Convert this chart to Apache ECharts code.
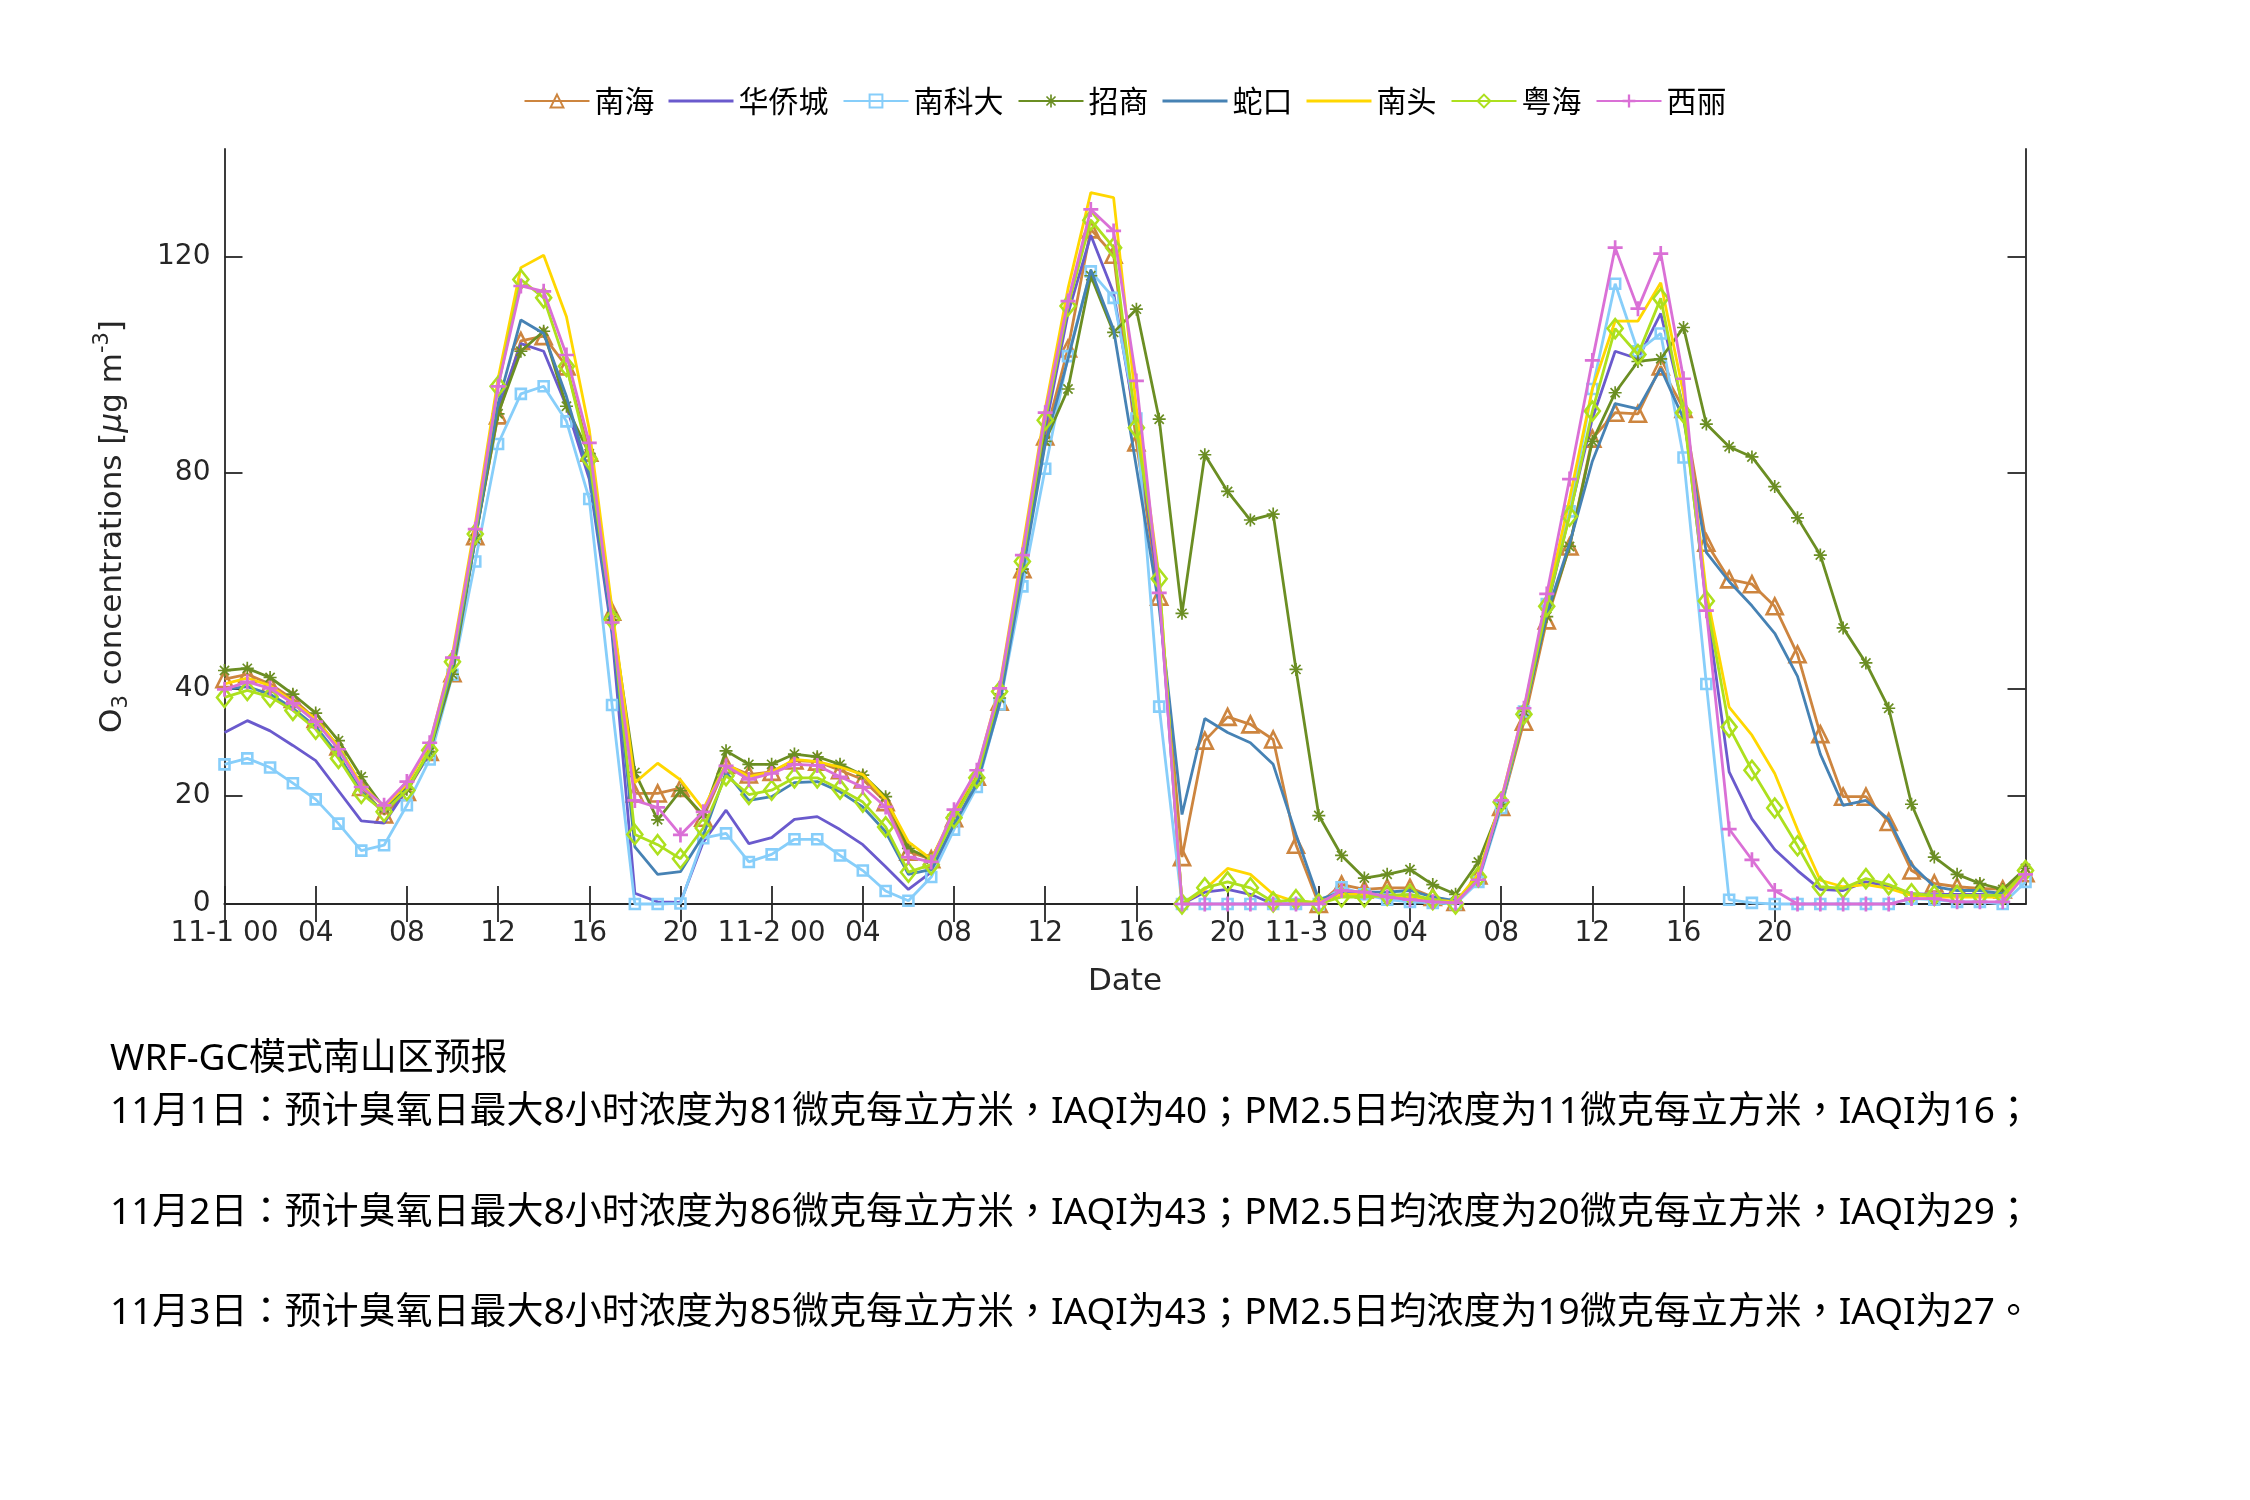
<!DOCTYPE html>
<html>
<head>
<meta charset="utf-8">
<script src="https://cdn.jsdelivr.net/npm/echarts@6/dist/echarts.min.js"></script>
<style>
html,body{margin:0;padding:0;background:#fff;}
#chart{width:2250px;height:1500px;}
</style>
</head>
<body>
<div id="chart"></div>
<script>
// ---------------- data ----------------
const hours = Array.from({length: 80}, (_, i) => String(i));
const tickLabels = ['11-1 00','04','08','12','16','20','11-2 00','04','08','12','16','20','11-3 00','04','08','12','16','20'];
const yTicks = [0, 20, 40, 80, 120];
const seriesNames = ['南海','华侨城','南科大','招商','蛇口','南头','粤海','西丽'];

const nanhai = [41.7,42.6,40.8,38.0,34.3,29.2,21.7,16.6,20.8,28.2,42.8,68.2,90.6,104.4,105.3,99.7,83.7,54.2,20.5,20.5,
  21.5,16.0,25.8,24.0,24.5,26.6,26.4,24.8,23.1,18.9,9.7,8.3,15.9,23.6,37.5,62.1,86.7,103.0,125.1,120.4,
  85.6,57.0,8.7,30.3,34.7,33.3,30.5,11.0,0,3.6,2.7,3.0,3.0,1.3,0.4,5.3,18.0,33.8,52.6,66.3,
  86.3,91.1,90.9,99.7,91.8,67.0,60.2,59.3,55.2,46.3,31.5,19.9,19.9,15.2,6.2,3.8,3.2,2.9,2.7,5.7];
const huaqiaocheng = [31.8,34.0,32.1,29.4,26.6,21.0,15.4,15.0,21.3,27.8,43.5,67.7,91.8,103.9,102.5,92.3,78.8,50.0,2.0,0.4,
  0.3,11.5,17.4,11.2,12.3,15.7,16.2,13.8,11.0,6.9,2.7,5.9,14.3,22.7,38.4,62.6,88.1,109.5,124.0,113.3,
  88.6,58.0,0,2.2,2.7,1.8,0,0,0,1.8,1.8,1.3,1.0,0.6,0.3,4.7,18.9,35.4,54.7,72.3,
  90.0,102.5,101.1,109.5,91.8,55.5,24.5,15.8,10.1,6.2,2.7,2.5,4.1,3.3,1.9,1.8,1.8,1.8,1.6,5.5];
const nankeda = [25.9,27.0,25.3,22.4,19.4,14.9,9.9,10.9,18.3,26.8,42.5,63.5,85.3,94.6,96.0,89.5,75.1,36.9,0,0,
  0.1,12.2,13.1,7.8,9.2,12.0,12.0,9.0,6.2,2.4,0.6,5.0,13.8,21.7,37.0,58.9,80.7,101.6,117.3,112.4,
  90.0,36.6,0,0,0,0,0,0,0,3.1,1.8,0.8,0.4,0.2,0,4.1,17.8,35.7,55.6,72.8,
  95.5,115.0,102.5,105.8,82.8,40.8,0.8,0.2,0,0,0,0,0,0,1.0,0.8,0.4,0.4,0,4.1];
const zhaoshang = [43.3,43.7,42.0,38.9,35.4,30.3,23.6,17.8,21.3,28.2,42.6,67.7,90.9,102.5,106.2,92.3,83.5,53.3,24.4,15.6,
  21.0,16.5,28.4,25.9,25.9,27.8,27.3,25.9,23.9,19.9,10.3,8.3,16.6,23.3,38.2,62.1,85.8,95.5,116.5,106.0,
  110.3,89.9,53.9,83.3,76.5,71.2,72.3,43.5,16.4,9.0,4.8,5.5,6.4,3.6,1.8,7.8,18.5,35.7,53.3,66.3,
  85.8,94.8,100.6,101.1,106.9,89.0,84.8,82.9,77.4,71.6,64.7,51.2,44.7,36.3,18.5,8.7,5.5,3.8,2.7,6.6];
const shekou = [39.8,40.3,38.9,36.3,32.9,27.6,20.8,17.1,21.3,28.2,44.0,67.7,92.8,108.3,105.8,94.1,79.7,51.0,10.6,5.5,
  6.0,12.7,24.4,19.2,19.9,22.5,22.7,20.8,18.0,13.4,5.5,6.4,14.8,22.2,37.0,61.2,85.3,101.1,117.6,106.5,
  81.0,55.0,16.6,34.4,31.8,29.9,25.9,12.9,0.8,2.2,2.2,2.2,2.5,1.3,0.6,4.5,18.3,35.0,53.8,66.8,
  82.1,92.8,91.8,99.3,90.0,65.2,59.8,55.3,50.2,42.2,27.8,18.3,19.2,15.7,7.3,3.2,2.5,2.5,1.9,5.5];
const nantou = [40.8,41.9,40.5,37.5,34.3,29.2,22.2,18.0,22.2,29.6,46.3,70.5,97.4,118.0,120.3,108.9,88.0,54.7,22.5,26.1,
  23.0,17.6,26.0,23.6,24.5,26.8,26.4,25.4,24.0,19.4,11.5,8.3,17.1,24.5,40.3,65.8,91.8,114.1,131.9,131.0,
  92.0,60.5,0,2.7,6.6,5.5,1.8,0.4,0.4,1.8,1.8,1.3,1.3,0.8,0.4,5.5,19.4,36.1,56.1,75.1,
  95.5,108.1,108.1,115.2,94.6,57.8,36.5,31.3,24.2,13.8,4.4,3.2,3.6,2.9,1.6,1.3,1.3,1.3,1.3,5.5];
const yuehai = [38.3,39.6,38.4,35.9,32.4,27.0,20.5,17.1,21.1,28.5,44.9,68.6,96.0,115.8,112.4,99.7,82.5,52.8,12.9,11.0,
  8.4,14.1,23.8,20.3,21.1,23.4,23.4,21.3,18.9,14.3,5.9,7.3,16.0,23.4,39.4,63.5,89.7,110.9,126.8,121.7,
  88.3,60.3,0,3.0,4.1,3.0,0.4,0.8,0,1.3,1.3,1.6,1.8,0.8,0,5.0,18.9,35.2,55.2,71.9,
  91.4,106.7,101.9,112.3,91.1,56.2,32.8,24.8,17.8,10.8,3.2,2.9,4.7,3.6,1.9,1.6,1.6,1.6,1.6,6.2];
const xili = [39.8,41.2,40.0,37.2,33.8,28.7,21.7,18.3,22.7,29.9,45.7,69.5,96.0,114.6,113.6,101.8,85.5,52.2,19.2,17.9,
  12.8,17.1,25.6,23.1,24.2,25.9,25.7,23.6,21.7,18.0,8.7,7.8,17.5,24.8,40.0,64.7,91.1,111.8,128.8,124.8,
  97.0,57.7,0,0,0,0,0,0,0,2.5,2.2,1.3,0.8,0.4,0.2,4.5,19.2,36.3,57.5,78.8,
  100.8,121.7,110.4,120.6,97.4,54.4,13.9,8.2,2.5,0,0,0,0,0,1.0,1.0,0.4,0.4,0.4,5.5];

const textLines = [
  'WRF-GC模式南山区预报',
  '11月1日：预计臭氧日最大8小时浓度为81微克每立方米，IAQI为40；PM2.5日均浓度为11微克每立方米，IAQI为16；',
  '11月2日：预计臭氧日最大8小时浓度为86微克每立方米，IAQI为43；PM2.5日均浓度为20微克每立方米，IAQI为29；',
  '11月3日：预计臭氧日最大8小时浓度为85微克每立方米，IAQI为43；PM2.5日均浓度为19微克每立方米，IAQI为27。'
];

// ---------------- styles ----------------
const AX = '#262626';
const LAT = '"DejaVu Sans", "Noto Sans CJK SC", sans-serif';
const CJK = '"Noto Sans CJK SC", "DejaVu Sans", sans-serif';
const PLUS = 'path://M8.2,0 L11.8,0 L11.8,8.2 L20,8.2 L20,11.8 L11.8,11.8 L11.8,20 L8.2,20 L8.2,11.8 L0,11.8 L0,8.2 L8.2,8.2 Z';
const STAR = 'path://M0,8.7 L20,8.7 L20,11.3 L0,11.3 Z M8.7,0 L11.3,0 L11.3,20 L8.7,20 Z M2.01,3.85 L3.85,2.01 L17.99,16.15 L16.15,17.99 Z M16.15,2.01 L17.99,3.85 L3.85,17.99 L2.01,16.15 Z';
// plain line legend icon (bbox 65 x 16, thin bar in the middle)
const LINE_ICON = 'path://M0,0 L0.01,0 L0.01,0.01 Z M0,6.6 L65,6.6 L65,9.4 L0,9.4 Z M64.99,16 L65,16 L65,15.99 Z';

const styleDefs = [
  {data: nanhai,       color: '#CD853F', symbol: 'triangle', size: 16, hollow: true},
  {data: huaqiaocheng, color: '#6A5ACD', symbol: 'none'},
  {data: nankeda,      color: '#87CEFA', symbol: 'rect', size: 10, hollow: true},
  {data: zhaoshang,    color: '#6B8E23', symbol: STAR, size: 13, hollow: false},
  {data: shekou,       color: '#4682B4', symbol: 'none'},
  {data: nantou,       color: '#FFD700', symbol: 'none'},
  {data: yuehai,       color: '#ADE01E', symbol: 'diamond', size: [15, 19], hollow: true},
  {data: xili,         color: '#DA70D6', symbol: PLUS, size: 15, hollow: false}
];

const series = styleDefs.map((s, i) => ({
  name: seriesNames[i],
  type: 'line',
  data: s.data,
  xAxisIndex: 0,
  yAxisIndex: 0,
  symbol: s.symbol,
  symbolSize: s.size || 0,
  showSymbol: s.symbol !== 'none',
  showAllSymbol: true,
  clip: false,
  lineStyle: {color: s.color, width: 2.8},
  itemStyle: s.hollow
    ? {color: 'rgba(255,255,255,0)', borderColor: s.color, borderWidth: 2.6}
    : {color: s.color, borderWidth: 0},
  emphasis: {disabled: true},
  z: 2 + i
}));

const legendData = seriesNames.map((n, i) =>
  styleDefs[i].symbol === 'none' ? {name: n, icon: LINE_ICON} : {name: n});

const xInterval = (idx) => idx % 4 === 0 && idx <= 68;

const baseX = {
  type: 'category',
  data: hours,
  boundaryGap: false,
  axisLine: {show: true, lineStyle: {color: AX, width: 1.8}},
  axisTick: {show: true, inside: true, length: 18, interval: xInterval, lineStyle: {color: AX, width: 1.8}},
  splitLine: {show: false}
};
const baseY = {
  type: 'value',
  min: 0, max: 140, interval: 20,
  axisLine: {show: true, lineStyle: {color: AX, width: 1.8}},
  axisTick: {show: true, inside: true, length: 18, customValues: yTicks, lineStyle: {color: AX, width: 1.8}},
  splitLine: {show: false}
};

const option = {
  animation: false,
  backgroundColor: '#ffffff',
  legend: {
    data: legendData,
    top: 86,
    left: 'center',
    itemWidth: 65,
    itemHeight: 16,
    itemGap: 14,
    padding: 0,
    symbolKeepAspect: true,
    textStyle: {fontFamily: CJK, fontSize: 30, color: '#000'}
  },
  grid: {left: 224.5, top: 149, width: 1801, height: 755, containLabel: false},
  xAxis: [
    Object.assign({}, baseX, {
      position: 'bottom',
      name: 'Date',
      nameLocation: 'middle',
      nameGap: 62,
      nameTextStyle: {fontFamily: LAT, fontSize: 31, color: AX},
      axisLabel: {
        show: true, interval: xInterval, margin: 16,
        fontFamily: LAT, fontSize: 28, color: AX,
        formatter: (v, idx) => tickLabels[Math.round(idx / 4)]
      }
    }),
    Object.assign({}, baseX, {position: 'top', axisLabel: {show: false}})
  ],
  yAxis: [
    Object.assign({}, baseY, {
      position: 'left',
      name: '{n|O}{sub|3}{n| concentrations [}{mu|μ}{n|g m}{sup|-3}{n|]}',
      nameLocation: 'middle',
      nameRotate: 90,
      nameGap: 92,
      nameTextStyle: {
        fontFamily: LAT, fontSize: 31, color: AX,
        rich: {
          n: {fontFamily: LAT, fontSize: 31, color: AX, lineHeight: 40},
          mu: {fontFamily: LAT, fontSize: 31, color: AX, lineHeight: 40, fontStyle: 'italic'},
          sub: {fontFamily: LAT, fontSize: 21, color: AX, lineHeight: 18, verticalAlign: 'bottom'},
          sup: {fontFamily: LAT, fontSize: 21, color: AX, lineHeight: 18, verticalAlign: 'top'}
        }
      },
      axisLabel: {
        show: true, margin: 14, customValues: yTicks,
        fontFamily: LAT, fontSize: 28, color: AX,
        formatter: (v) => (yTicks.indexOf(v) >= 0 ? String(v) : '')
      }
    }),
    Object.assign({}, baseY, {position: 'right', axisLabel: {show: false}})
  ],
  graphic: textLines.map((t, i) => ({
    type: 'text',
    x: 110,
    y: [1059, 1112, 1213, 1313][i],
    silent: true,
    style: {
      text: t,
      font: '37px "Noto Sans", "Noto Sans CJK TC", sans-serif',
      fill: '#000',
      align: 'left',
      verticalAlign: 'middle'
    }
  })),
  series: series
};

const chart = echarts.init(document.getElementById('chart'), null, {renderer: 'canvas'});
chart.setOption(option);
</script>
</body>
</html>
